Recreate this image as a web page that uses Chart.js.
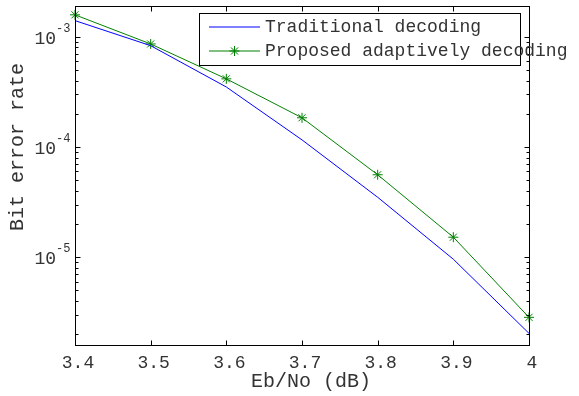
<!DOCTYPE html>
<html>
<head>
<meta charset="utf-8">
<script src="https://cdn.jsdelivr.net/npm/chart.js@4/dist/chart.umd.min.js"></script>
<style>
  html, body { margin: 0; padding: 0; background: #fff; }
</style>
</head>
<body>
<canvas id="myChart" width="579" height="396"></canvas>
<script>
// values (BER vs Eb/No)
var ebno = [3.4, 3.5, 3.6, 3.7, 3.8, 3.9, 4.0];
var traditional = [1.40e-3, 8.3e-4, 3.5e-4, 1.16e-4, 3.5e-5, 9.6e-6, 2.04e-6];
var proposed = [1.58e-3, 8.6e-4, 4.15e-4, 1.84e-4, 5.6e-5, 1.52e-5, 2.85e-6];
var seriesNames = ["Traditional decoding", "Proposed adaptively decoding"];
var xTicks = [3.4, 3.5, 3.6, 3.7, 3.8, 3.9, 4];
var xTickLabels = ["3.4", "3.5", "3.6", "3.7", "3.8", "3.9", "4"];
var yExponents = [-3, -4, -5];

var MONO = '"Liberation Mono", "Courier New", monospace';
var TXT = '#333';

function toPoints(xs, ys) {
  return xs.map(function (v, i) { return { x: v, y: ys[i] }; });
}

// matlab style box, inward ticks, 10^k labels, titles and legend
var matlabAxes = {
  id: 'matlabAxes',
  afterDatasetsDraw: function (chart) {
    var ctx = chart.ctx, a = chart.chartArea;
    var x = chart.scales.x, y = chart.scales.y;
    var L = Math.round(a.left) + 0.5, R = Math.round(a.right) + 0.5;
    var T = Math.round(a.top) + 0.5, B = Math.round(a.bottom) + 0.5;
    ctx.save();
    ctx.strokeStyle = '#000';
    ctx.lineWidth = 1;
    ctx.strokeRect(L, T, R - L, B - T);
    ctx.beginPath();
    xTicks.forEach(function (t) {
      var px = Math.round(x.getPixelForValue(t)) + 0.5;
      ctx.moveTo(px, B); ctx.lineTo(px, B - 5);
      ctx.moveTo(px, T); ctx.lineTo(px, T + 5);
    });
    // log ticks
    for (var e = -6; e <= -3; e++) {
      for (var m = 1; m <= 9; m++) {
        var v = m * Math.pow(10, e);
        if (v < y.min || v > y.max) continue;
        var py = Math.round(y.getPixelForValue(v)) + 0.5;
        var len = m === 1 ? 5 : 3;
        ctx.moveTo(L, py); ctx.lineTo(L + len, py);
        ctx.moveTo(R, py); ctx.lineTo(R - len, py);
      }
    }
    ctx.stroke();

    ctx.fillStyle = TXT;
    ctx.textBaseline = 'middle';

    // x tick labels
    ctx.font = '18px ' + MONO;
    ctx.textAlign = 'center';
    xTicks.forEach(function (t, i) {
      ctx.fillText(xTickLabels[i], x.getPixelForValue(t) + 3, 363);
    });

    // y tick labels with superscript exponent
    yExponents.forEach(function (k) {
      var py = y.getPixelForValue(Math.pow(10, k));
      ctx.font = '18px ' + MONO;
      ctx.textAlign = 'right';
      ctx.fillText('10', 56, py + 2);
      ctx.font = '12px ' + MONO;
      ctx.textAlign = 'left';
      ctx.fillText(String(k), 56, py - 8);
    });

    // axis titles
    ctx.font = '20px ' + MONO;
    ctx.textAlign = 'center';
    ctx.fillText('Eb/No (dB)', 311, 382);
    ctx.translate(18, 147);
    ctx.rotate(-Math.PI / 2);
    ctx.fillText('Bit error rate', 0, 0);
    ctx.restore();
  },
  afterDraw: function (chart) {
    var ctx = chart.ctx;
    ctx.save();
    ctx.fillStyle = '#fff';
    ctx.fillRect(199.5, 13.5, 321, 52);
    ctx.strokeStyle = '#000';
    ctx.lineWidth = 1;
    ctx.strokeRect(199.5, 13.5, 321, 52);
    var rows = [27, 51];
    var colors = ['#0000ff', '#008000'];
    rows.forEach(function (ry, i) {
      ctx.strokeStyle = colors[i];
      ctx.lineWidth = 1;
      ctx.beginPath();
      ctx.moveTo(209, ry);
      ctx.lineTo(260, ry);
      ctx.stroke();
      ctx.fillStyle = TXT;
      ctx.font = '18px ' + MONO;
      ctx.textAlign = 'left';
      ctx.textBaseline = 'middle';
      ctx.fillText(seriesNames[i], 265, ry);
    });
    ctx.strokeStyle = colors[1];
    ctx.fillStyle = colors[1];
    Chart.helpers.drawPoint(ctx, { pointStyle: 'star', radius: 5, borderWidth: 1 }, 234.5, 51);
    ctx.restore();
  }
};

var ctx = document.getElementById("myChart").getContext('2d');
var myChart = new Chart(ctx, {
  type: 'line',
  data: {
    datasets: [{
      label: seriesNames[0],
      data: toPoints(ebno, traditional),
      borderColor: '#0000ff',
      borderWidth: 1,
      pointRadius: 0,
      tension: 0,
      clip: false
    }, {
      label: seriesNames[1],
      data: toPoints(ebno, proposed),
      borderColor: '#008000',
      backgroundColor: '#008000',
      borderWidth: 1,
      pointStyle: 'star',
      pointRadius: 5,
      pointBorderWidth: 1,
      pointBorderColor: '#008000',
      tension: 0,
      clip: false
    }]
  },
  options: {
    responsive: false,
    animation: false,
    devicePixelRatio: 1,
    layout: { padding: { left: 75, top: 6, right: 50, bottom: 51 } },
    plugins: { legend: { display: false }, tooltip: { enabled: false } },
    scales: {
      x: {
        type: 'linear', min: 3.4, max: 4,
        ticks: { display: false, stepSize: 0.1 },
        grid: { display: false, drawTicks: false },
        border: { display: false },
        afterFit: function (s) { s.height = 0; }
      },
      y: {
        type: 'logarithmic', min: 1.6e-6, max: 1.9e-3,
        ticks: { display: false },
        grid: { display: false, drawTicks: false },
        border: { display: false },
        afterFit: function (s) { s.width = 0; }
      }
    }
  },
  plugins: [matlabAxes]
});
</script>
</body>
</html>
